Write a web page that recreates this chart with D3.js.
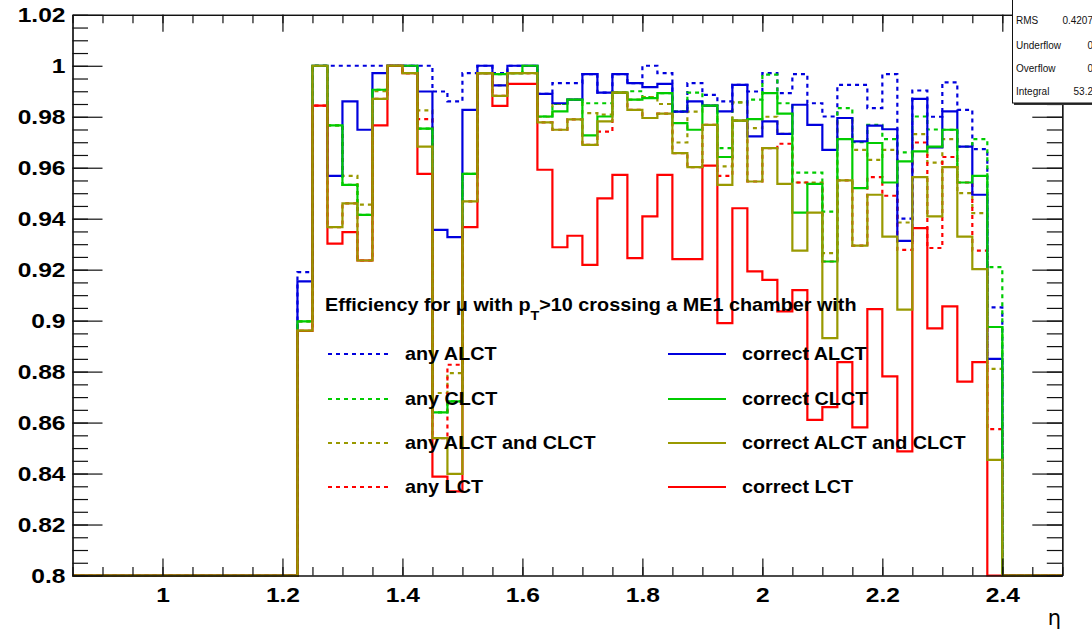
<!DOCTYPE html>
<html><head><meta charset="utf-8">
<script src="https://cdn.jsdelivr.net/npm/d3@7"></script>
<style>body{margin:0;background:#fff;overflow:hidden}</style>
</head><body><svg id="c" width="1092" height="631"></svg>
<script>
// ---- data ----
const binStart = 1.225, binWidth = 0.025;          // first filled bin, bin width
const xMin = 0.85, xMax = 2.5, yMin = 0.8, yMax = 1.02;
const xTickLabels = [1, 1.2, 1.4, 1.6, 1.8, 2, 2.2, 2.4];
const yTickLabels = [0.8, 0.82, 0.84, 0.86, 0.88, 0.9, 0.92, 0.94, 0.96, 0.98, 1, 1.02];

const anyALCT = [0.919,1,1,1,1,1,1,1,1,0.9899,0.986,0.9971,1,0.9971,1,1,0.989,0.9932,0.9932,0.9967,0.9895,0.9967,0.9932,1,0.9971,0.982,0.9932,0.9886,0.986,0.9925,0.9899,0.9971,0.9893,0.9967,0.9853,0.9801,0.9925,0.9925,0.9834,0.9967,0.94,0.9903,0.98,0.9935,0.9827,0.9673,0.9052];
const anyCLCT = [0.8997,1,0.9766,0.9533,0.9415,0.9906,1,1,0.9753,0.864,0.8683,0.9576,0.9971,0.9967,0.9971,1,0.9801,0.985,0.9867,0.9853,0.9853,0.9895,0.99,0.9877,0.9893,0.9821,0.9895,0.9844,0.9677,0.9856,0.9867,0.9965,0.9853,0.9581,0.9581,0.9428,0.9834,0.97,0.9768,0.9712,0.966,0.9801,0.975,0.9749,0.9683,0.9712,0.921];
const anyALCTandCLCT = [0.8997,1,0.9766,0.9568,0.9455,0.99,1,0.9971,0.9825,0.8716,0.8794,0.9576,0.9971,0.9923,0.9971,0.9971,0.98,0.985,0.9867,0.9814,0.9808,0.9895,0.9867,0.9877,0.985,0.9699,0.982,0.9844,0.9605,0.9856,0.9755,0.98,0.9733,0.9542,0.9542,0.9265,0.9795,0.967,0.9631,0.967,0.9385,0.9732,0.962,0.9712,0.95,0.9422,0.8811];
const anyLCT = [0.896,0.9844,0.9367,0.946,0.9236,0.987,1,0.9971,0.9791,0.8539,0.8827,0.9468,0.9971,0.9882,0.9971,0.9971,0.9778,0.9749,0.979,0.969,0.9742,0.9895,0.9827,0.9795,0.9812,0.9657,0.9602,0.9768,0.9568,0.9785,0.9546,0.9677,0.9694,0.9542,0.9537,0.9232,0.955,0.9294,0.9563,0.949,0.9278,0.9699,0.9285,0.9642,0.9542,0.9275,0.8574];
const correctALCT = [0.9154,1,0.9568,0.986,0.9749,0.9971,1,1,0.9899,0.9356,0.9328,0.9827,1,0.9923,1,1,0.989,0.9853,0.9867,0.9967,0.9895,0.9967,0.9932,0.9916,0.9929,0.982,0.986,0.9844,0.9821,0.9925,0.9723,0.9782,0.9733,0.9847,0.9768,0.967,0.9795,0.9703,0.9765,0.9751,0.9313,0.987,0.968,0.9821,0.9683,0.9494,0.885];
const correctCLCT = [0.8997,1,0.9766,0.9533,0.9415,0.9906,1,1,0.9753,0.864,0.8683,0.9576,0.9971,0.9967,0.9971,1,0.9801,0.9821,0.9867,0.9727,0.9801,0.9895,0.9867,0.9873,0.9893,0.9775,0.9749,0.9844,0.9642,0.9785,0.9791,0.9893,0.9812,0.9424,0.9537,0.9232,0.9712,0.952,0.9697,0.9542,0.9625,0.9664,0.9683,0.9749,0.9542,0.9568,0.8975];
const correctALCTandCLCT = [0.8961,1,0.9367,0.946,0.9236,0.987,1,0.9971,0.9683,0.8539,0.8399,0.9468,0.9971,0.9882,0.9971,0.9971,0.9778,0.9749,0.979,0.969,0.9782,0.9895,0.9827,0.9795,0.9812,0.9657,0.9602,0.9768,0.9533,0.9785,0.9546,0.9677,0.9537,0.9275,0.9424,0.8931,0.955,0.9294,0.9494,0.933,0.9043,0.9563,0.9409,0.9602,0.933,0.9202,0.8454];
const correctLCT = [0.896,0.9844,0.9302,0.9347,0.9236,0.9766,1,0.9971,0.9576,0.8388,0.833,0.9367,0.9971,0.9843,0.9929,0.9929,0.9592,0.9288,0.9333,0.9219,0.948,0.9572,0.9245,0.9409,0.9572,0.9241,0.9241,0.9608,0.899,0.9441,0.9193,0.916,0.9036,0.912,0.8611,0.8661,0.8837,0.8581,0.9045,0.8781,0.8487,0.9363,0.897,0.9056,0.8761,0.8837,0];

const statsLabels = ["RMS", "Underflow", "Overflow", "Integral"];
const statsValues = ["0.4207", "0", "0", "53.2"];

const BLUE = "#0000dd", GREEN = "#00cc00", OLIVE = "#999900", RED = "#ff0000";
const series = [
  {name:"any ALCT", values:anyALCT, color:BLUE, dashed:true},
  {name:"any CLCT", values:anyCLCT, color:GREEN, dashed:true},
  {name:"any ALCT and CLCT", values:anyALCTandCLCT, color:OLIVE, dashed:true},
  {name:"any LCT", values:anyLCT, color:RED, dashed:true},
  {name:"correct ALCT", values:correctALCT, color:BLUE, dashed:false},
  {name:"correct CLCT", values:correctCLCT, color:GREEN, dashed:false},
  {name:"correct LCT", values:correctLCT, color:RED, dashed:false},
  {name:"correct ALCT and CLCT", values:correctALCTandCLCT, color:OLIVE, dashed:false}
];
const legendLeft = ["any ALCT","any CLCT","any ALCT and CLCT","any LCT"];
const legendRight = ["correct ALCT","correct CLCT","correct ALCT and CLCT","correct LCT"];

// ---- drawing ----
const svg = d3.select("#c");
const FONT = "'Liberation Sans', Arial, Helvetica, sans-serif";
const x = d3.scaleLinear().domain([xMin, xMax]).range([72.5, 1062.3]);
const y = d3.scaleLinear().domain([yMin, yMax]).range([575.5, 14.8]).clamp(true);

const nBins = Math.round((xMax - xMin) / binWidth);
const offset = Math.round((binStart - xMin) / binWidth);
const line = d3.line().x(d => x(d[0])).y(d => y(d[1])).curve(d3.curveStepAfter);

function fullPoints(vals) {
  const pts = [];
  for (let i = 0; i < nBins; i++) {
    const j = i - offset;
    const v = (j >= 0 && j < vals.length) ? vals[j] : 0;
    pts.push([xMin + i * binWidth, v]);
  }
  pts.push([xMax, pts[pts.length - 1][1]]);
  return pts;
}

const plot = svg.append("g");
series.forEach(s => {
  plot.append("path")
    .attr("d", line(fullPoints(s.values)))
    .attr("fill", "none")
    .attr("stroke", s.color)
    .attr("stroke-width", 2.2)
    .attr("stroke-dasharray", s.dashed ? "4,4" : null);
});

// axes
const xMinor = d3.range(0, Math.round((xMax - xMin) / 0.05) + 1).map(i => xMin + i * 0.05);
const yMinor = d3.range(0, Math.round((yMax - yMin) / 0.005) + 1).map(i => yMin + i * 0.005);
function styleAxis(g) {
  g.selectAll("path.domain").attr("stroke", "#111").attr("stroke-width", 1.2);
  g.selectAll(".tick line").attr("stroke", "#111").attr("stroke-width", 1.2);
}
function stretch(g, f) {
  g.selectAll("text").attr("transform", function() {
    const tx = +(this.getAttribute("x") || 0);
    return `translate(${tx},0) scale(${f},1) translate(${-tx},0)`;
  });
}
const gB = svg.append("g").attr("transform", `translate(0,${y(yMin)})`);
gB.call(d3.axisBottom(x).tickValues(xMinor).tickSize(-8.5).tickSizeOuter(0).tickFormat(""));
const gB2 = svg.append("g").attr("transform", `translate(0,${y(yMin)})`);
gB2.call(d3.axisBottom(x).tickValues(xTickLabels).tickSize(-17).tickSizeOuter(0).tickPadding(12).tickFormat(d3.format("~g")));
gB2.selectAll("text").attr("font-family", FONT).attr("font-weight", "bold").attr("font-size", 21).attr("fill", "#000");
stretch(gB2, 1.17);

const gT = svg.append("g").attr("transform", `translate(0,${y(yMax)})`);
gT.call(d3.axisTop(x).tickValues(xMinor).tickSize(-8.5).tickSizeOuter(0).tickFormat(""));
gT.call(g => g.append("g").call(d3.axisTop(x).tickValues(xTickLabels).tickSize(-17).tickSizeOuter(0).tickFormat("")));

const gL = svg.append("g").attr("transform", `translate(${x(xMin)},0)`);
gL.call(d3.axisLeft(y).tickValues(yMinor).tickSize(-15.5).tickSizeOuter(0).tickFormat(""));
const gL2 = svg.append("g").attr("transform", `translate(${x(xMin)},0)`);
gL2.call(d3.axisLeft(y).tickValues(yTickLabels).tickSize(-30).tickSizeOuter(0).tickPadding(7).tickFormat(d3.format("~g")));
gL2.selectAll("text").attr("font-family", FONT).attr("font-weight", "bold").attr("font-size", 21).attr("fill", "#000");
stretch(gL2, 1.17);

const gR = svg.append("g").attr("transform", `translate(${x(xMax)},0)`);
gR.call(d3.axisRight(y).tickValues(yMinor).tickSize(-15.5).tickSizeOuter(0).tickFormat(""));
gR.call(g => g.append("g").call(d3.axisRight(y).tickValues(yTickLabels).tickSize(-30).tickSizeOuter(0).tickFormat("")));
[gB, gB2, gT, gL, gL2, gR].forEach(styleAxis);

// axis title
svg.append("text").attr("x", 1061).attr("y", 625).attr("text-anchor", "end")
  .attr("font-family", "'DejaVu Sans', sans-serif").attr("font-size", 21).text("η");

// legend
const leg = svg.append("g").attr("font-family", FONT).attr("font-weight", "bold").attr("font-size", 18).attr("fill", "#000");
const title = leg.append("text").attr("x", 325).attr("y", 311)
  .attr("transform", "translate(325,0) scale(1.1,1) translate(-325,0)");
title.append("tspan").text("Efficiency for μ with p");
title.append("tspan").attr("dy", 9).attr("font-size", 13).text("T");
title.append("tspan").attr("dy", -9).text(">10 crossing a ME1 chamber with");
const rowY = [354, 399, 443, 487];
function legendCol(names, x0, x1, tx) {
  names.forEach((n, i) => {
    const s = series.find(d => d.name === n);
    leg.append("line").attr("x1", x0).attr("x2", x1).attr("y1", rowY[i]).attr("y2", rowY[i])
      .attr("stroke", s.color).attr("stroke-width", 2.2).attr("stroke-dasharray", s.dashed ? "4,4" : null);
    leg.append("text").attr("x", tx).attr("y", rowY[i] + 6.5)
      .attr("transform", `translate(${tx},0) scale(1.1,1) translate(${-tx},0)`).text(n);
  });
}
legendCol(legendLeft, 328, 392, 405);
legendCol(legendRight, 668, 726, 742);

// stats box
const st = svg.append("g");
st.append("rect").attr("x", 1014).attr("y", -4).attr("width", 90).attr("height", 109).attr("fill", "#333");
st.append("rect").attr("x", 1012.5).attr("y", -6).attr("width", 90).attr("height", 109).attr("fill", "#fff").attr("stroke", "#111").attr("stroke-width", 1);
statsLabels.forEach((l, i) => {
  const by = [24, 49, 72, 95][i];
  st.append("text").attr("x", 1016).attr("y", by).attr("font-family", FONT).attr("font-size", 10).attr("fill", "#111").text(l);
  st.append("text").attr("x", 1093).attr("y", by).attr("text-anchor", "end").attr("font-family", FONT).attr("font-size", 10).attr("fill", "#111").text(statsValues[i]);
});
</script></body></html>
